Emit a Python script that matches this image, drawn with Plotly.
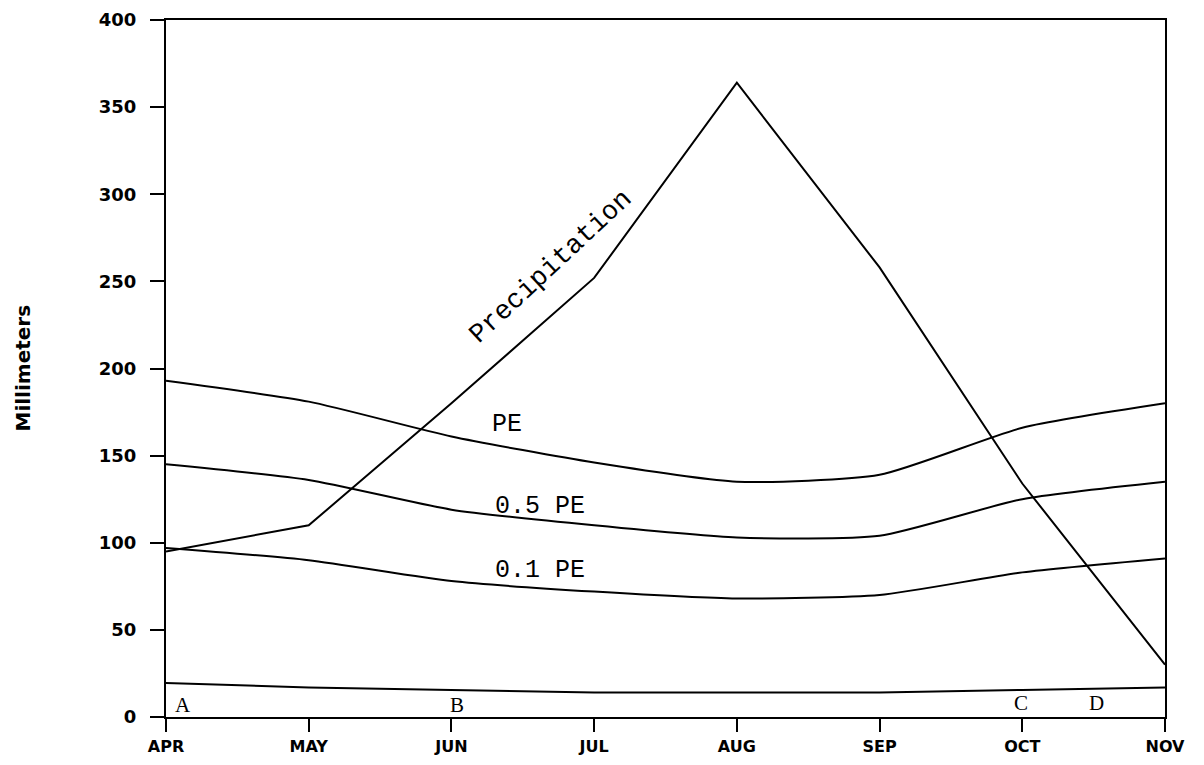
import plotly.graph_objects as go

months = ["APR", "MAY", "JUN", "JUL", "AUG", "SEP", "OCT", "NOV"]
x_idx = list(range(len(months)))

precipitation = [95, 110, 180, 252, 364, 258, 134, 30]
pe = [193, 181, 161, 146, 135, 139, 166, 180]
pe_05 = [145, 136, 119, 110, 103, 104, 125, 135]
pe_01 = [97, 90, 78, 72, 68, 70, 83, 91]
base = [19.5, 17, 15.5, 14, 14, 14, 15.5, 17]

y_ticks = [0, 50, 100, 150, 200, 250, 300, 350, 400]

fig = go.Figure()
for name, ys, shape in [("Precipitation", precipitation, "linear"),
                        ("PE", pe, "spline"),
                        ("0.5 PE", pe_05, "spline"),
                        ("0.1 PE", pe_01, "spline"),
                        ("base", base, "linear")]:
    fig.add_trace(go.Scatter(x=x_idx, y=ys, mode="lines", name=name,
                             line=dict(color="black", width=2, shape=shape,
                                       smoothing=0.6 if shape == "spline" else None),
                             showlegend=False, hoverinfo="skip"))

mono = dict(family="Liberation Mono, Courier New, monospace", size=25, color="black")
mono_big = dict(family="Liberation Mono, Courier New, monospace", size=27, color="black")
serif = dict(family="Liberation Serif, Times New Roman, serif", size=21, color="black")
annos = [
    ("Precipitation", 2.70, 258, -43, mono_big),
    ("PE", 2.39, 168, 0, mono),
    ("0.5 PE", 2.62, 121, 0, mono),
    ("0.1 PE", 2.62, 84, 0, mono),
    ("A", 0.12, 7, 0, serif),
    ("B", 2.04, 7, 0, serif),
    ("C", 5.99, 8, 0, serif),
    ("D", 6.52, 8, 0, serif),
]
for text, xv, yv, ang, fnt in annos:
    fig.add_annotation(x=xv, y=yv, text=text, showarrow=False, font=fnt,
                       textangle=ang, xref="x", yref="y")

fig.add_annotation(x=0, y=0.5, xref="paper", yref="paper", xshift=-144,
                   xanchor="center", yanchor="middle",
                   text="Millimeters", textangle=-90, showarrow=False,
                   font=dict(family="DejaVu Sans, Arial, sans-serif", size=20,
                             color="black", weight="bold"))

x_font = dict(family="DejaVu Sans, Arial, sans-serif", size=16, color="black", weight="bold")
y_font = dict(family="DejaVu Sans, Arial, sans-serif", size=18, color="black", weight="bold")
fig.update_layout(
    width=1204, height=765,
    margin=dict(l=158, r=47, t=12, b=56),
    plot_bgcolor="white", paper_bgcolor="white",
    xaxis=dict(range=[0, 7], tickvals=x_idx, ticktext=months, showgrid=False,
               zeroline=False, showline=True, linecolor="black", linewidth=2,
               mirror=True, ticks="outside", ticklen=13, tickwidth=2, automargin=False,
               tickcolor="black", tickfont=x_font, ticklabelstandoff=1),
    yaxis=dict(range=[0, 400], tickvals=y_ticks, showgrid=False, zeroline=False,
               showline=True, linecolor="black", linewidth=2, mirror=True, automargin=False,
               ticks="outside", ticklen=14, tickwidth=2, tickcolor="black",
               tickfont=y_font, ticklabelstandoff=10),
)
fig.write_html("out.html")
